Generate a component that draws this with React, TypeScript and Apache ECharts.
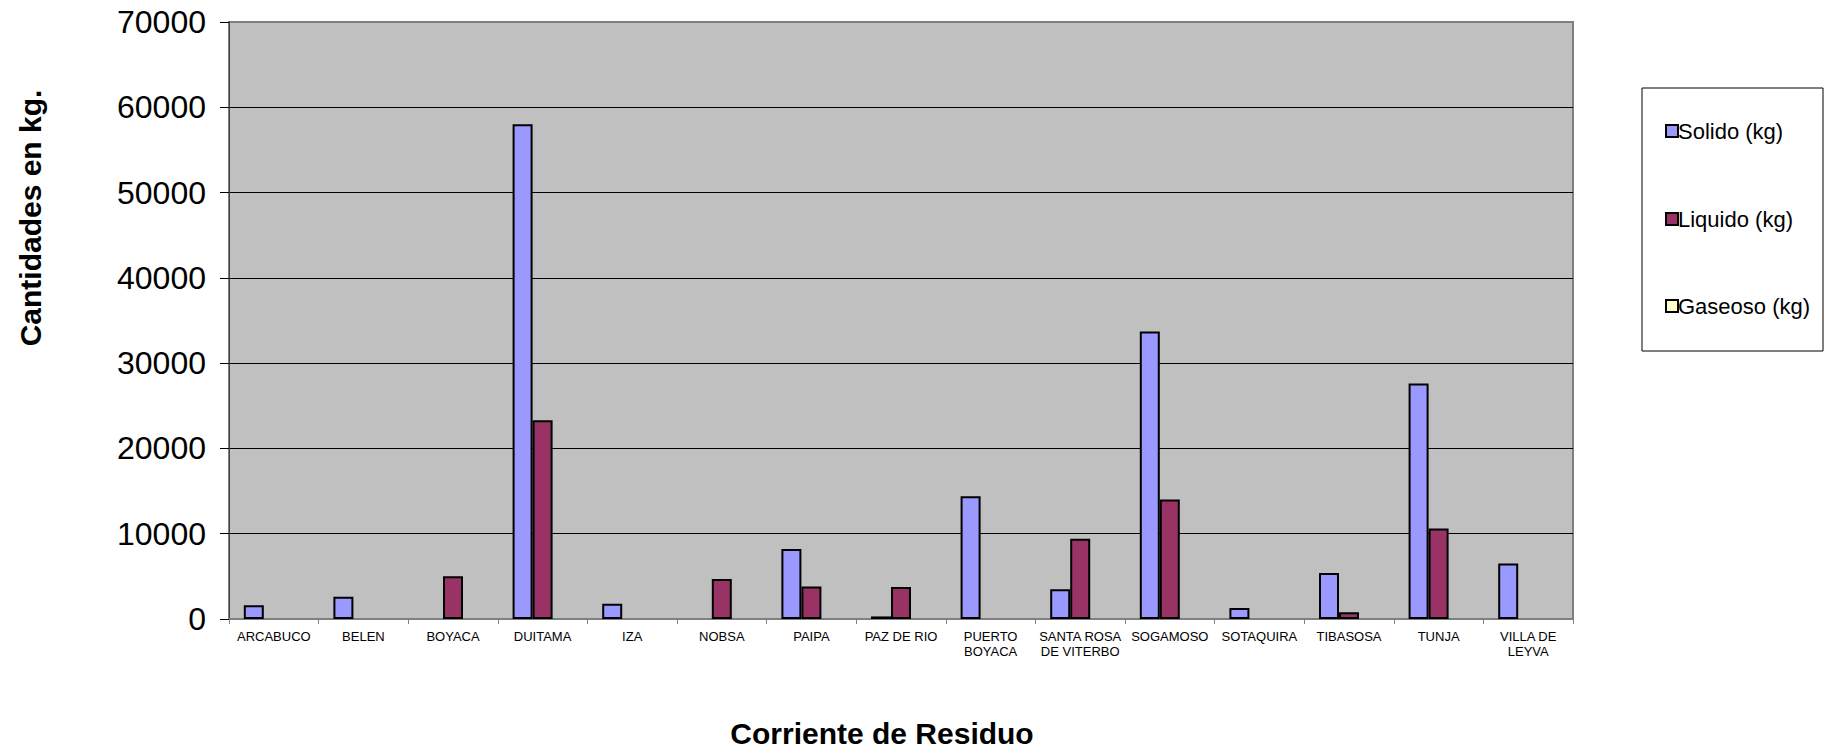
import React, { useEffect, useRef } from "react";
import * as echarts from "echarts";

const categories = [
  "ARCABUCO",
  "BELEN",
  "BOYACA",
  "DUITAMA",
  "IZA",
  "NOBSA",
  "PAIPA",
  "PAZ DE RIO",
  "PUERTO\nBOYACA",
  "SANTA ROSA\nDE VITERBO",
  "SOGAMOSO",
  "SOTAQUIRA",
  "TIBASOSA",
  "TUNJA",
  "VILLA DE\nLEYVA",
];

const seriesNames = ["Solido (kg)", "Liquido (kg)", "Gaseoso (kg)"];
const solido = [1600, 2600, 0, 58000, 1800, 0, 8200, 300, 14400, 3500, 33700, 1300, 5400, 27600, 6500];
const liquido = [0, 0, 5000, 23300, 0, 4700, 3800, 3750, 0, 9400, 14000, 0, 800, 10600, 0];
const gaseoso = [0, 0, 0, 0, 0, 0, 0, 0, 0, 0, 0, 0, 0, 0, 0];
const seriesColors = ["#9999FF", "#993366", "#FFFFCC"];

const yTitle = "Cantidades en kg.";
const xTitle = "Corriente de Residuo";

const FONT = "'Liberation Sans', Arial, sans-serif";

export default function App() {
  const ref = useRef<HTMLDivElement>(null);

  useEffect(() => {
    if (!ref.current) return;
    const chart = echarts.init(ref.current, undefined, { renderer: "svg" });
    const values = [solido, liquido, gaseoso];
    const legendCenters = [132, 220, 307];
    chart.setOption({
      animation: false,
      backgroundColor: "#FFFFFF",
      textStyle: { fontFamily: FONT },
      grid: {
        left: 229,
        right: 262,
        top: 22,
        bottom: 132,
        show: true,
        backgroundColor: "#C0C0C0",
        borderColor: "#808080",
        borderWidth: 2,
      },
      legend: seriesNames.map((name, i) => ({
        orient: "vertical",
        left: 1660,
        top: legendCenters[i] - 18,
        itemWidth: 12,
        itemHeight: 12,
        icon: "rect",
        data: [name],
        textStyle: {
          fontFamily: FONT,
          fontSize: 22,
          color: "#000",
          lineHeight: 24,
          padding: [0, 0, 0, -5],
        },
      })),
      xAxis: {
        type: "category",
        data: categories,
        boundaryGap: true,
        axisLine: { show: true, lineStyle: { color: "#808080", width: 2 } },
        axisTick: { show: true, length: 5, lineStyle: { color: "#808080" } },
        axisLabel: {
          interval: 0,
          fontFamily: FONT,
          fontSize: 13,
          lineHeight: 15,
          color: "#000",
          margin: 10,
        },
        splitLine: { show: false },
      },
      yAxis: {
        type: "value",
        min: 0,
        max: 70000,
        interval: 10000,
        axisLine: { show: true, lineStyle: { color: "#404040", width: 1 } },
        axisTick: { show: true, length: 9, lineStyle: { color: "#000" } },
        axisLabel: {
          fontFamily: FONT,
          fontSize: 32,
          color: "#000",
          margin: 23,
          formatter: (v: number) => String(v),
        },
        splitLine: {
          show: true,
          showMaxLine: false,
          lineStyle: { color: "#000", width: 1 },
        },
      },
      series: values.map((arr, i) => ({
        name: seriesNames[i],
        type: "bar",
        barWidth: 20,
        barGap: "0%",
        itemStyle: { color: seriesColors[i], borderColor: "#000", borderWidth: 2 },
        data: arr.map((v) => (v === 0 ? { value: v, itemStyle: { borderWidth: 0 } } : v)),
      })),
      graphic: [
        {
          type: "rect",
          shape: { x: 1642, y: 88, width: 181, height: 263 },
          style: { fill: "none", stroke: "#000", lineWidth: 1 },
          z: 0,
        },
        {
          type: "text",
          x: 30,
          y: 218,
          rotation: Math.PI / 2,
          style: {
            text: yTitle,
            font: `bold 30px ${FONT}`,
            fill: "#000",
            textAlign: "center",
            textVerticalAlign: "middle",
          },
        },
        {
          type: "text",
          x: 882,
          y: 733,
          style: {
            text: xTitle,
            font: `bold 30px ${FONT}`,
            fill: "#000",
            textAlign: "center",
            textVerticalAlign: "middle",
          },
        },
      ],
    });
    return () => chart.dispose();
  }, []);

  return (
    <div
      ref={ref}
      style={{ position: "fixed", left: 0, top: 0, width: 1835, height: 751 }}
    />
  );
}
